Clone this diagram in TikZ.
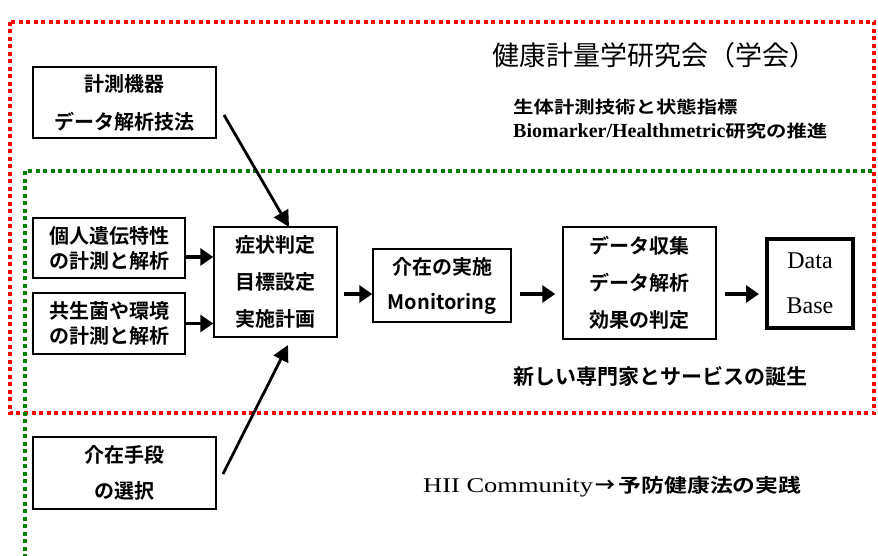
\documentclass[tikz,border=0pt]{standalone}
\usepackage{fontspec}
\setmainfont{Liberation Serif}
\newfontfamily\jpb{Noto Sans CJK JP Bold}
\newfontfamily\jpr{Noto Sans CJK JP}
\newfontfamily\jpbw{Noto Sans CJK JP Bold}[FakeStretch=1.2]
\newfontfamily\serw{Liberation Serif}[FakeStretch=1.26]
\usetikzlibrary{arrows.meta}
\definecolor{dotred}{RGB}{255,0,0}
\definecolor{dotgreen}{RGB}{0,128,0}
\begin{document}
\begin{tikzpicture}[x=1pt,y=-1pt,
  box/.style={draw, line width=1.5pt, align=center, inner sep=0pt, font=\jpb\fontsize{20}{37}\selectfont},
  flow/.style={line width=3.5pt, -{Triangle[length=13pt,width=17pt]}},
  diag/.style={line width=2.8pt, -{Triangle[length=16pt,width=16pt]}},
  frame/.style={line width=4pt, dash pattern=on 4pt off 3.5pt},
]
\useasboundingbox (0,0) rectangle (878,556);
% frames
\draw[frame, dotred] (10,22) rectangle (874,413);
\coordinate (gtr) at (872,171);
\coordinate (gtl) at (25,171);
\coordinate (gbl) at (25,556);
\draw[frame, dotgreen] (gtr) -- (gtl) -- (gbl);
% texts
\node[font=\jpr\fontsize{27}{27}\selectfont] (title) at (654,55) {健康計量学研究会（学会）};
\node[anchor=west, inner sep=0pt, font=\jpbw\fontsize{17}{17}\selectfont] (t1) at (513,107) {生体計測技術と状態指標};
\node[anchor=west, inner sep=0pt] (t2) at (513,131) {{\bfseries\fontsize{20}{20}\selectfont Biomarker/Healthmetric}{\jpbw\fontsize{17}{17}\selectfont 研究の推進}};
\node[font=\jpb\fontsize{21}{21}\selectfont] (t3) at (660,376) {新しい専門家とサービスの誕生};
\node[anchor=west, inner sep=0pt] (t4) at (423,487) {{\serw\fontsize{21}{21}\selectfont HII Community}\hspace{3pt}{\jpb\fontsize{20}{20}\selectfont →}\hspace{3pt}{\jpbw\fontsize{19}{19}\selectfont 予防健康法の実践}};
% boxes
\node[box, minimum width=183pt, minimum height=71pt, font=\jpb\fontsize{20}{38}\selectfont] (kb) at (124.5,102.5) {計測機器\\データ解析技法};
\node[box, minimum width=152pt, minimum height=60pt, font=\jpb\fontsize{20}{25}\selectfont] (ib) at (109,248) {個人遺伝特性\\の計測と解析};
\node[box, minimum width=152pt, minimum height=61pt, font=\jpb\fontsize{20}{25}\selectfont] (kyb) at (109,323.5) {共生菌や環境\\の計測と解析};
\node[box, minimum width=123pt, minimum height=110pt] (sb) at (275.5,282) {症状判定\\目標設定\\実施計画};
\node[box, minimum width=138pt, minimum height=73pt, font=\jpb\fontsize{20}{35}\selectfont] (mb) at (442,285.5) {介在の実施\\Monitoring};
\node[box, minimum width=153pt, minimum height=112pt] (db) at (639.5,283) {データ収集\\データ解析\\効果の判定};
\node[draw, line width=4pt, minimum width=86pt, minimum height=89pt, align=center, inner sep=0pt, font=\fontsize{24}{45}\selectfont] (base) at (810,283.5) {Data\\Base};
\node[box, minimum width=183pt, minimum height=72pt, font=\jpb\fontsize{20}{36}\selectfont] (cb) at (124.5,473) {介在手段\\の選択};
% connectors
\coordinate (y257) at (0,257);
\coordinate (y294) at (0,294);
\draw[flow] (ib.east |- y257) -- (sb.west |- y257);
\draw[flow] (kyb.east) -- (kyb.east -| sb.west);
\draw[flow, shorten <=6pt] (sb.east |- y294) -- (mb.west |- y294);
\draw[flow, shorten <=8pt, shorten >=7pt] (mb.east |- y294) -- (db.west |- y294);
\draw[flow, shorten <=8pt, shorten >=6pt] (db.east |- y294) -- (base.west |- y294);
\coordinate (d1s) at (224,115);
\coordinate (d1e) at (289,227);
\coordinate (d2s) at (223,474);
\coordinate (d2e) at (288,345);
\draw[diag] (d1s) -- (d1e);
\draw[diag] (d2s) -- (d2e);
\end{tikzpicture}
\end{document}
